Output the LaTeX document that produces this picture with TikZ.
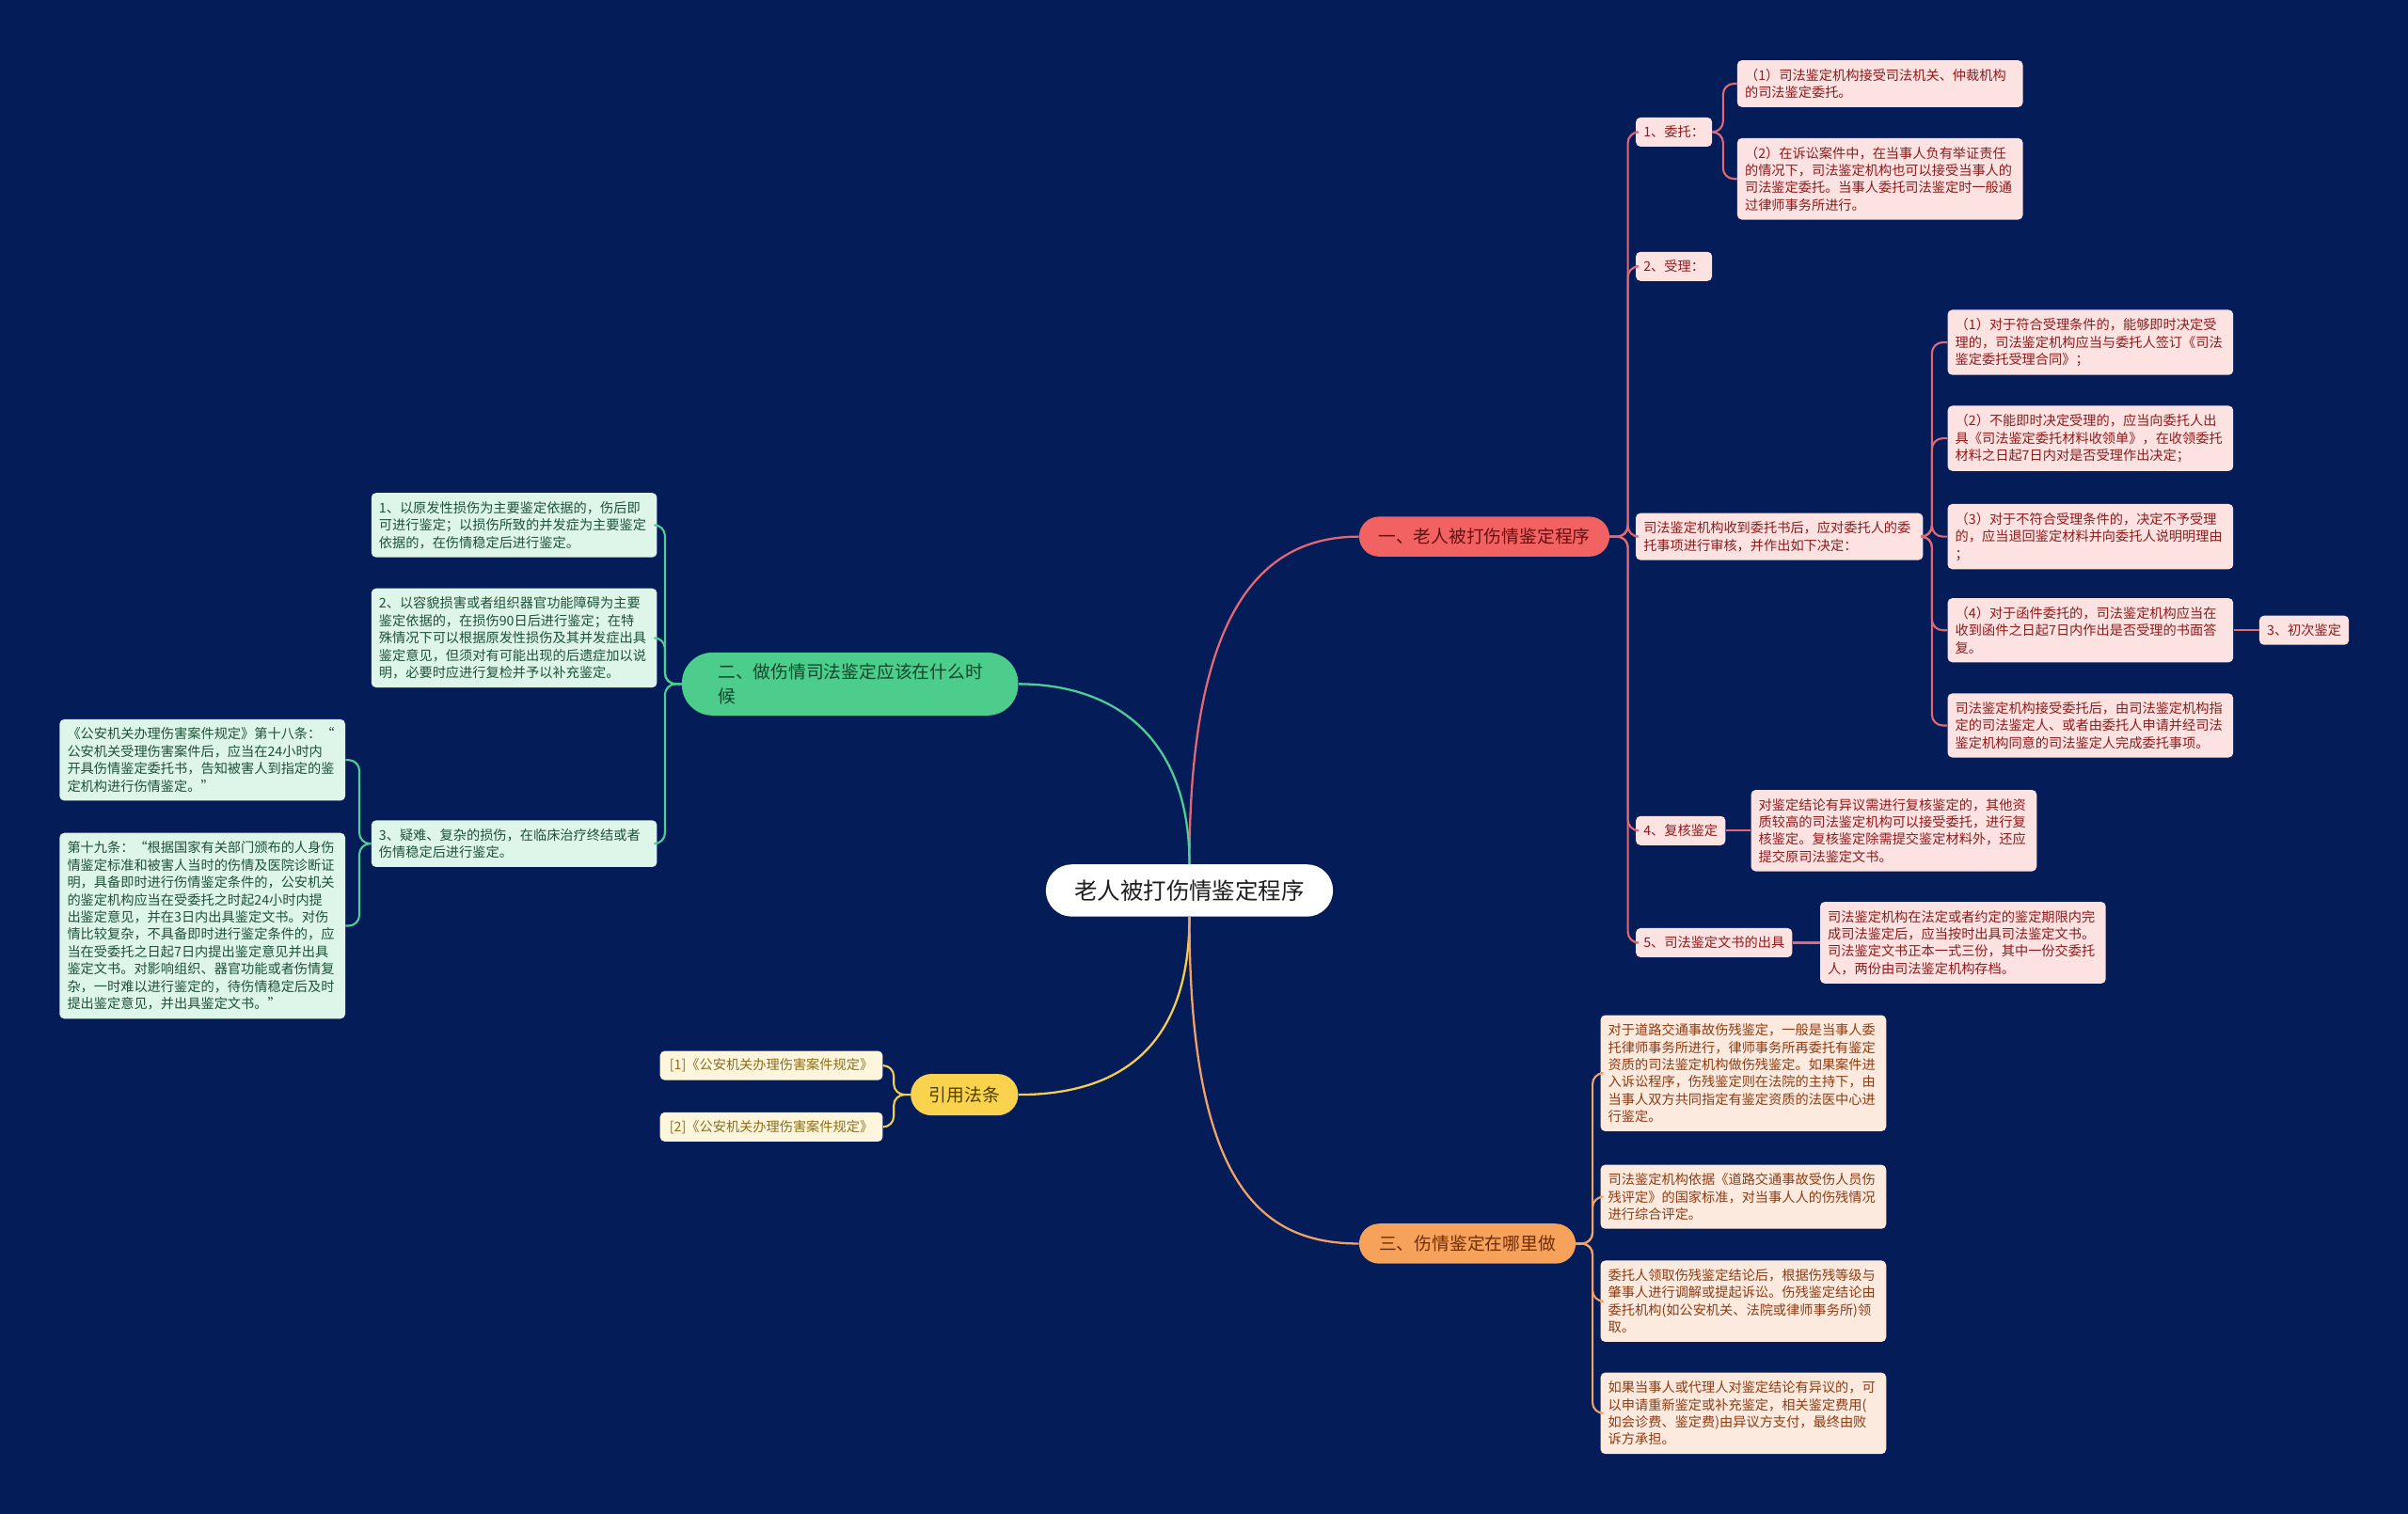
\documentclass[tikz,border=0pt]{standalone}
\usepackage{fontspec}
\setmainfont{Noto Sans CJK SC}
\definecolor{bg}{RGB}{4,28,88}
\definecolor{redF}{RGB}{242,98,98}
\definecolor{redT}{RGB}{100,18,18}
\definecolor{redE}{RGB}{226,104,116}
\definecolor{pinkF}{RGB}{253,226,226}
\definecolor{pinkT}{RGB}{140,28,28}
\definecolor{greenF}{RGB}{76,205,140}
\definecolor{greenT}{RGB}{18,70,42}
\definecolor{greenE}{RGB}{80,205,150}
\definecolor{mintF}{RGB}{222,245,234}
\definecolor{mintT}{RGB}{30,82,56}
\definecolor{yelF}{RGB}{249,211,78}
\definecolor{yelT}{RGB}{80,60,0}
\definecolor{yelE}{RGB}{245,205,80}
\definecolor{creamF}{RGB}{253,246,220}
\definecolor{creamT}{RGB}{140,110,30}
\definecolor{oraF}{RGB}{247,162,90}
\definecolor{oraT}{RGB}{110,45,10}
\definecolor{oraE}{RGB}{240,162,104}
\definecolor{peachF}{RGB}{253,234,222}
\definecolor{peachT}{RGB}{140,60,20}
\definecolor{centT}{RGB}{30,30,30}
\begin{document}
\begin{tikzpicture}[x=1pt,y=-1pt,
  edge/.style={line width=1.3pt, rounded corners=7pt},
  mainedge/.style={line width=1.4pt},
  leaf/.style={rounded corners=3pt, inner xsep=5pt, inner ysep=5.5pt, text width=176pt, align=left, font=\fontsize{8.7}{11.3}\selectfont},
  tag/.style={rounded corners=3pt, inner xsep=5pt, inner ysep=0pt, minimum height=19pt, font=\fontsize{8.7}{11.3}\selectfont},
  pill/.style={inner sep=0pt, font=\fontsize{11.5}{16}\selectfont},
  pinkleaf/.style={leaf, fill=pinkF, text=pinkT},
  pinktag/.style={tag, fill=pinkF, text=pinkT},
  mintleaf/.style={leaf, fill=mintF, text=mintT},
  peachleaf/.style={leaf, fill=peachF, text=peachT},
  creamtag/.style={tag, fill=creamF, text=creamT, minimum width=145pt},
]
\useasboundingbox (0,0) rectangle (1568,986);
\fill[bg] (0,0) rectangle (1568,986);

% centre
\node[fill=white, text=centT, rounded corners=17pt, minimum width=187pt, minimum height=34pt, inner sep=0pt, font=\fontsize{15}{18}\selectfont] (c) at (774.5,580) {老人被打伤情鉴定程序};

% main branches
\node[pill, fill=redF, text=redT, rounded corners=13pt, minimum width=163pt, minimum height=26pt] (b1) at (966.5,349.5) {一、老人被打伤情鉴定程序};
\node[pill, fill=greenF, text=greenT, rounded corners=20pt, minimum height=41pt, text width=172pt, align=left, inner xsep=23.5pt] (b2) at (553.5,445.5) {二、做伤情司法鉴定应该在什么时\\候};
\node[pill, fill=yelF, text=yelT, rounded corners=13.5pt, minimum width=70pt, minimum height=27pt] (y0) at (628,713) {引用法条};
\node[pill, fill=oraF, text=oraT, rounded corners=13pt, minimum width=141pt, minimum height=26pt] (o0) at (955.5,810) {三、伤情鉴定在哪里做};

\draw[mainedge, redE] (c.north) .. controls (774.5,400) and (820,349.5) .. (b1.west);
\draw[mainedge, greenE] (c.north) .. controls (774.5,475) and (720,445.5) .. (b2.east);
\draw[mainedge, yelE] (c.south) .. controls (774.5,690) and (720,713) .. (y0.east);
\draw[mainedge, oraE] (c.south) .. controls (774.5,770) and (820,810) .. (o0.west);

% ===== branch 1 =====
\node[pinktag, anchor=west] (r1) at (1065,86) {1、委托：};
\node[pinktag, anchor=west] (r2) at (1065,173.5) {2、受理：};
\node[pinkleaf, anchor=west, text width=177pt] (r3) at (1065,349.5) {司法鉴定机构收到委托书后，应对委托人的委\\托事项进行审核，并作出如下决定：};
\node[pinktag, anchor=west] (r4) at (1065,541) {4、复核鉴定};
\node[pinktag, anchor=west] (r5) at (1065,614) {5、司法鉴定文书的出具};

\node[pinkleaf, anchor=west] (r1a) at (1131,54.5) {（1）司法鉴定机构接受司法机关、仲裁机构\\的司法鉴定委托。};
\node[pinkleaf, anchor=west] (r1b) at (1131,116.5) {（2）在诉讼案件中，在当事人负有举证责任\\的情况下，司法鉴定机构也可以接受当事人的\\司法鉴定委托。当事人委托司法鉴定时一般通\\过律师事务所进行。};

\node[pinkleaf, anchor=west] (r3a) at (1268,223) {（1）对于符合受理条件的，能够即时决定受\\理的，司法鉴定机构应当与委托人签订《司法\\鉴定委托受理合同》；};
\node[pinkleaf, anchor=west] (r3b) at (1268,285.5) {（2）不能即时决定受理的，应当向委托人出\\具《司法鉴定委托材料收领单》，在收领委托\\材料之日起7日内对是否受理作出决定；};
\node[pinkleaf, anchor=west] (r3c) at (1268,349.5) {（3）对于不符合受理条件的，决定不予受理\\的，应当退回鉴定材料并向委托人说明明理由\\；};
\node[pinkleaf, anchor=west] (r3d) at (1268,410.5) {（4）对于函件委托的，司法鉴定机构应当在\\收到函件之日起7日内作出是否受理的书面答\\复。};
\node[pinkleaf, anchor=west] (r3e) at (1268,472.5) {司法鉴定机构接受委托后，由司法鉴定机构指\\定的司法鉴定人、或者由委托人申请并经司法\\鉴定机构同意的司法鉴定人完成委托事项。};
\node[pinktag, anchor=west] (r3d1) at (1471,410.5) {3、初次鉴定};

\node[pinkleaf, anchor=west] (r4a) at (1140,541) {对鉴定结论有异议需进行复核鉴定的，其他资\\质较高的司法鉴定机构可以接受委托，进行复\\核鉴定。复核鉴定除需提交鉴定材料外，还应\\提交原司法鉴定文书。};
\node[pinkleaf, anchor=west] (r5a) at (1185,614) {司法鉴定机构在法定或者约定的鉴定期限内完\\成司法鉴定后，应当按时出具司法鉴定文书。\\司法鉴定文书正本一式三份，其中一份交委托\\人，两份由司法鉴定机构存档。};

\coordinate (j1) at (1060,349.5);
\foreach \n in {r1,r2,r3,r4,r5} \draw[edge, redE] (b1.east) -- (j1) |- (\n.west);
\coordinate (j1a) at (1122,86);
\foreach \n in {r1a,r1b} \draw[edge, redE] (r1.east) -- (j1a) |- (\n.west);
\coordinate (j3) at (1258,349.5);
\foreach \n in {r3a,r3b,r3c,r3d,r3e} \draw[edge, redE] (r3.east) -- (j3) |- (\n.west);
\draw[edge, redE] (r3d.east) -- (r3d1.west);
\draw[edge, redE] (r4.east) -- (r4a.west);
\draw[edge, redE] (r5.east) -- (r5a.west);

% ===== branch 2 =====
\node[mintleaf, anchor=east] (g1) at (428,342) {1、以原发性损伤为主要鉴定依据的，伤后即\\可进行鉴定；以损伤所致的并发症为主要鉴定\\依据的，在伤情稳定后进行鉴定。};
\node[mintleaf, anchor=east] (g2) at (428,415.5) {2、以容貌损害或者组织器官功能障碍为主要\\鉴定依据的，在损伤90日后进行鉴定；在特\\殊情况下可以根据原发性损伤及其并发症出具\\鉴定意见，但须对有可能出现的后遗症加以说\\明，必要时应进行复检并予以补充鉴定。};
\node[mintleaf, anchor=east] (g3) at (428,549.5) {3、疑难、复杂的损伤，在临床治疗终结或者\\伤情稳定后进行鉴定。};
\node[mintleaf, anchor=east] (g3a) at (225,495) {《公安机关办理伤害案件规定》第十八条：“\\公安机关受理伤害案件后，应当在24小时内\\开具伤情鉴定委托书，告知被害人到指定的鉴\\定机构进行伤情鉴定。”};
\node[mintleaf, anchor=east] (g3b) at (225,603) {第十九条：“根据国家有关部门颁布的人身伤\\情鉴定标准和被害人当时的伤情及医院诊断证\\明，具备即时进行伤情鉴定条件的，公安机关\\的鉴定机构应当在受委托之时起24小时内提\\出鉴定意见，并在3日内出具鉴定文书。对伤\\情比较复杂，不具备即时进行鉴定条件的，应\\当在受委托之日起7日内提出鉴定意见并出具\\鉴定文书。对影响组织、器官功能或者伤情复\\杂，一时难以进行鉴定的，待伤情稳定后及时\\提出鉴定意见，并出具鉴定文书。”};

\coordinate (j2) at (433,445.5);
\foreach \n in {g1,g2,g3} \draw[edge, greenE] (b2.west) -- (j2) |- (\n.east);
\coordinate (j2c) at (234,549.5);
\foreach \n in {g3a,g3b} \draw[edge, greenE] (g3.west) -- (j2c) |- (\n.east);

% ===== citations =====
\node[creamtag, anchor=east] (y1) at (575,694) {[1]《公安机关办理伤害案件规定》};
\node[creamtag, anchor=east] (y2) at (575,734) {[2]《公安机关办理伤害案件规定》};
\coordinate (jy) at (582,713);
\foreach \n in {y1,y2} \draw[edge, yelE] (y0.west) -- (jy) |- (\n.east);

% ===== branch 3 =====
\node[peachleaf, anchor=west] (o1) at (1042,699) {对于道路交通事故伤残鉴定，一般是当事人委\\托律师事务所进行，律师事务所再委托有鉴定\\资质的司法鉴定机构做伤残鉴定。如果案件进\\入诉讼程序，伤残鉴定则在法院的主持下，由\\当事人双方共同指定有鉴定资质的法医中心进\\行鉴定。};
\node[peachleaf, anchor=west] (o2) at (1042,779.5) {司法鉴定机构依据《道路交通事故受伤人员伤\\残评定》的国家标准，对当事人人的伤残情况\\进行综合评定。};
\node[peachleaf, anchor=west] (o3) at (1042,847.5) {委托人领取伤残鉴定结论后，根据伤残等级与\\肇事人进行调解或提起诉讼。伤残鉴定结论由\\委托机构(如公安机关、法院或律师事务所)领\\取。};
\node[peachleaf, anchor=west] (o4) at (1042,920.5) {如果当事人或代理人对鉴定结论有异议的，可\\以申请重新鉴定或补充鉴定，相关鉴定费用(\\如会诊费、鉴定费)由异议方支付，最终由败\\诉方承担。};
\coordinate (jo) at (1037,810);
\foreach \n in {o1,o2,o3,o4} \draw[edge, oraE] (o0.east) -- (jo) |- (\n.west);
\end{tikzpicture}
\end{document}
